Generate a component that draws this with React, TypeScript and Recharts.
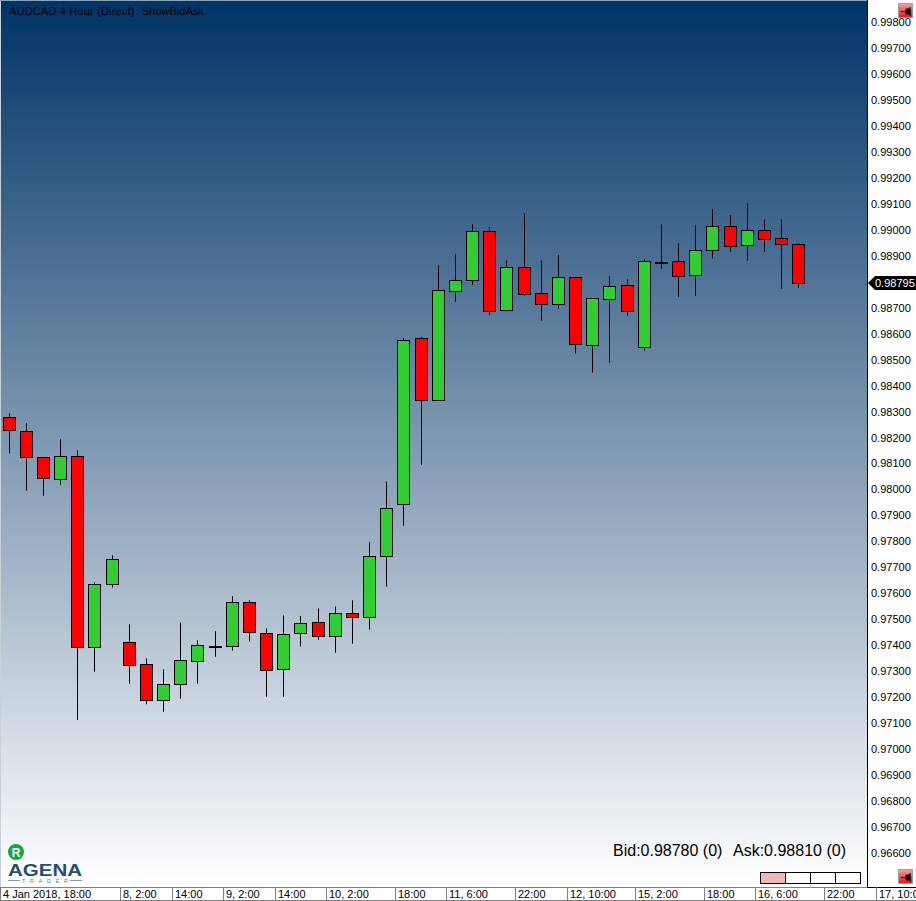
import React from "react"
import { BarChart, Bar, XAxis, YAxis, ReferenceLine } from "recharts"

const FONT = "'Liberation Sans', Arial, sans-serif"
const WIDTH = 916
const HEIGHT = 901

const opens = [
  0.98278, 0.98224, 0.98124, 0.98039, 0.98128, 0.97392, 0.97635, 0.97411, 0.97327, 0.97188,
  0.9725, 0.97338, 0.97397, 0.97396, 0.97565, 0.97446, 0.97307, 0.97446, 0.97488, 0.97435,
  0.97523, 0.97508, 0.97743, 0.97943, 0.98582, 0.98343, 0.98763, 0.98805, 0.98994, 0.9869,
  0.98855, 0.98755, 0.98713, 0.98817, 0.98555, 0.98732, 0.98786, 0.98547, 0.98877, 0.98879,
  0.98825, 0.98921, 0.99013, 0.9894, 0.98998, 0.98967, 0.98944,
]
const highs = [
  0.98293, 0.98255, 0.98124, 0.98193, 0.98151, 0.97642, 0.97746, 0.97481, 0.9735, 0.97307,
  0.97488, 0.97419, 0.97454, 0.97589, 0.97573, 0.97465, 0.97515, 0.97513, 0.97542, 0.9755,
  0.97573, 0.97797, 0.98031, 0.98582, 0.98588, 0.98863, 0.98906, 0.99021, 0.9901, 0.98882,
  0.99063, 0.98882, 0.98902, 0.98817, 0.98736, 0.98821, 0.98809, 0.98886, 0.99021, 0.98948,
  0.99017, 0.99079, 0.99056, 0.99102, 0.9904, 0.9904, 0.98948,
]
const lows = [
  0.98139, 0.97995, 0.97976, 0.98018, 0.97113, 0.97298, 0.97622, 0.97252, 0.97173, 0.97144,
  0.97194, 0.97252, 0.97356, 0.97379, 0.97414, 0.97202, 0.97202, 0.97395, 0.97421, 0.97371,
  0.97406, 0.9746, 0.97626, 0.9786, 0.98095, 0.98343, 0.98723, 0.98788, 0.98672, 0.98685,
  0.98745, 0.9865, 0.98696, 0.98523, 0.9845, 0.98488, 0.98669, 0.98534, 0.9885, 0.98742,
  0.98746, 0.98889, 0.98915, 0.98881, 0.98915, 0.98773, 0.98777,
]
const closes = [
  0.98228, 0.98124, 0.98043, 0.98128, 0.97392, 0.97635, 0.97731, 0.97323, 0.97188, 0.9725,
  0.97342, 0.974, 0.97397, 0.97565, 0.9745, 0.97304, 0.97442, 0.97485, 0.97435, 0.97523,
  0.97508, 0.97743, 0.97927, 0.98574, 0.98343, 0.98767, 0.98805, 0.98994, 0.98686, 0.98855,
  0.98751, 0.98713, 0.98817, 0.98559, 0.98736, 0.98782, 0.98686, 0.98879, 0.98877, 0.98821,
  0.98921, 0.99013, 0.98936, 0.98998, 0.98963, 0.98944, 0.98795,
]

// slots on the time axis, the candles only fill the first 47
const SLOT_COUNT = 53
const tickSlots = [0, 7, 10, 13, 16, 19, 23, 26, 30, 33, 37, 41, 44, 48, 51]
const tickLabels = [
  "4 Jan 2018, 18:00", "8, 2:00", "14:00", "9, 2:00", "14:00", "10, 2:00", "18:00", "11, 6:00",
  "22:00", "12, 10:00", "15, 2:00", "18:00", "16, 6:00", "22:00", "17, 10:00",
]
// 0.988 sits behind the last price tag, so it is left out
const priceTicks = [
  0.966, 0.967, 0.968, 0.969, 0.97, 0.971, 0.972, 0.973, 0.974, 0.975, 0.976, 0.977, 0.978, 0.979,
  0.98, 0.981, 0.982, 0.983, 0.984, 0.985, 0.986, 0.987, 0.989, 0.99, 0.991, 0.992, 0.993,
  0.994, 0.995, 0.996, 0.997, 0.998,
]
const lastPrice = 0.98795
const priceDomain = [0.964692, 0.998847]

const rows = Array.from({ length: SLOT_COUNT }, (_, slot) => ({
  slot,
  open: opens[slot],
  high: highs[slot],
  low: lows[slot],
  close: closes[slot],
}))

const Candle = (props: any) => {
  const { x, y, width, height, payload } = props
  if (payload.high === undefined) return null
  const { open, high, low, close } = payload
  const perUnit = height / (high - low)
  const center = Math.floor(x + width / 2) + 0.5
  const bodyTop = Math.round(y + (high - Math.max(open, close)) * perUnit) + 0.5
  const bodyBottom = Math.round(y + (high - Math.min(open, close)) * perUnit) + 0.5
  const fill = close >= open ? "#32cd32" : "#ff0000"
  return (
    <g>
      <line x1={center} x2={center} y1={y} y2={y + height} stroke="#000" strokeWidth={1} />
      <rect
        x={center - 6}
        y={bodyTop}
        width={12}
        height={Math.max(bodyBottom - bodyTop, 1)}
        fill={open === close ? "#000" : fill}
        stroke="#000"
        strokeWidth={1}
      />
    </g>
  )
}

const TimeTick = (props: any) => {
  const { x, payload } = props
  const at = tickSlots.indexOf(payload.value)
  if (at < 0) return null
  const left = Math.round(x - 8.6) + 0.5
  return (
    <g>
      <line x1={left} x2={left} y1={887} y2={900} stroke="#808080" />
      <text x={left + 2.5} y={898} fontFamily={FONT} fontSize={11} fill="#000">
        {tickLabels[at]}
      </text>
    </g>
  )
}

const PriceTick = (props: any) => {
  const { y, payload } = props
  return (
    <text x={871} y={y + 4} fontFamily={FONT} fontSize={11} fill="#000">
      {payload.value.toFixed(5)}
    </text>
  )
}

const PriceTag = (props: any) => {
  const y = props.viewBox.y
  return (
    <g>
      <polygon
        points={`868,${y} 875,${y - 7} 916,${y - 7} 916,${y + 7} 875,${y + 7}`}
        fill="#000"
      />
      <text x={875} y={y + 4} fontFamily={FONT} fontSize={11} fill="#fff">
        {lastPrice.toFixed(5)}
      </text>
    </g>
  )
}

const PinButton = ({ top }: { top: number }) => (
  <svg
    width={15}
    height={15}
    style={{ position: "absolute", left: 898, top }}
  >
    <defs>
      <linearGradient id={`pin${top}`} x1="0" y1="0" x2="0" y2="1">
        <stop offset="0" stopColor="#f9a0a0" />
        <stop offset="1" stopColor="#f01010" />
      </linearGradient>
    </defs>
    <rect x={0.5} y={0.5} width={14} height={14} fill={`url(#pin${top})`} stroke="#a0a0a0" />
    <path d="M3 8.5H8M8 6H12V11H8ZM12 4V13" fill="#000" stroke="#000" />
  </svg>
)

const Logo = () => (
  <svg width={90} height={46} style={{ position: "absolute", left: 0, top: 840 }}>
    <circle cx={16} cy={12} r={8} fill="#12a83e" />
    <text x={16} y={16.5} textAnchor="middle" fontFamily={FONT} fontSize={12} fontWeight="bold" fill="#fff">
      R
    </text>
    <text x={8} y={35.5} textLength={74} lengthAdjust="spacingAndGlyphs" fontFamily={FONT} fontSize={16} fontWeight="bold" fill="#24506f">
      AGENA
    </text>
    <line x1={8} x2={20} y1={40.5} y2={40.5} stroke="#8a99a6" />
    <line x1={70} x2={82} y1={40.5} y2={40.5} stroke="#8a99a6" />
    <text x={22} y={43} textLength={46} fontFamily={FONT} fontSize={5.5} fill="#6f7f8c">
      TRADER
    </text>
  </svg>
)

export default function App() {
  return (
    <div style={{ position: "absolute", left: 0, top: 0, width: WIDTH, height: HEIGHT, background: "#fff", overflow: "hidden" }}>
      <div
        style={{
          position: "absolute",
          left: 0,
          top: 0,
          width: 867,
          height: 887,
          background: "linear-gradient(#003366, #ffffff)",
        }}
      />
      <div style={{ position: "absolute", left: 0, top: 0, width: 1, height: 887, background: "#c8d0d8" }} />
      <div style={{ position: "absolute", left: 0, top: 0, width: 867, height: 1, background: "#8fa3b8" }} />
      <div style={{ position: "absolute", left: 867, top: 0, width: 1, height: 887, background: "#000" }} />
      <div style={{ position: "absolute", left: 867, top: 887, width: 49, height: 1, background: "#000" }} />
      <div style={{ position: "absolute", left: 0, top: 887, width: 867, height: 1, background: "#808080" }} />
      <div style={{ position: "absolute", left: 0, top: 900, width: WIDTH, height: 1, background: "#808080" }} />

      <BarChart
        width={WIDTH}
        height={HEIGHT}
        data={rows}
        barSize={12}
        margin={{ top: 0, right: 6, bottom: 0, left: 0 }}
        style={{ position: "absolute", left: 0, top: 0 }}
      >
        <XAxis
          dataKey="slot"
          type="category"
          height={14}
          interval={0}
          axisLine={false}
          tickLine={false}
          tick={<TimeTick />}
        />
        <YAxis
          type="number"
          orientation="right"
          mirror
          domain={priceDomain}
          ticks={priceTicks}
          allowDataOverflow
          axisLine={false}
          tickLine={false}
          tick={<PriceTick />}
        />
        <Bar
          dataKey={(d: any) => (d.high === undefined ? null : [d.low, d.high])}
          shape={<Candle />}
          isAnimationActive={false}
        />
        <ReferenceLine y={lastPrice} stroke="none" label={<PriceTag />} />
      </BarChart>

      <div style={{ position: "absolute", left: 9, top: 5, font: `11px ${FONT}`, letterSpacing: 0.18, color: "#000", whiteSpace: "pre" }}>
        AUDCAD 4 Hour (Direct)
      </div>
      <div style={{ position: "absolute", left: 142, top: 5, font: `11px ${FONT}`, color: "#000" }}>ShowBidAsk</div>
      <div style={{ position: "absolute", left: 613, top: 842, font: `16px ${FONT}`, color: "#000" }}>Bid:0.98780 (0)</div>
      <div style={{ position: "absolute", left: 733, top: 842, font: `16px ${FONT}`, color: "#000" }}>Ask:0.98810 (0)</div>

      <Logo />
      <PinButton top={3} />
      <PinButton top={869} />

      <div style={{ position: "absolute", left: 760, top: 872, display: "flex", border: "1px solid #000", height: 10 }}>
        {[0, 1, 2, 3].map((cell) => (
          <div
            key={cell}
            style={{
              width: 24,
              height: 10,
              background: cell === 0 ? "#f4b6b6" : "transparent",
              borderLeft: cell === 0 ? "none" : "1px solid #000",
            }}
          />
        ))}
      </div>
    </div>
  )
}
